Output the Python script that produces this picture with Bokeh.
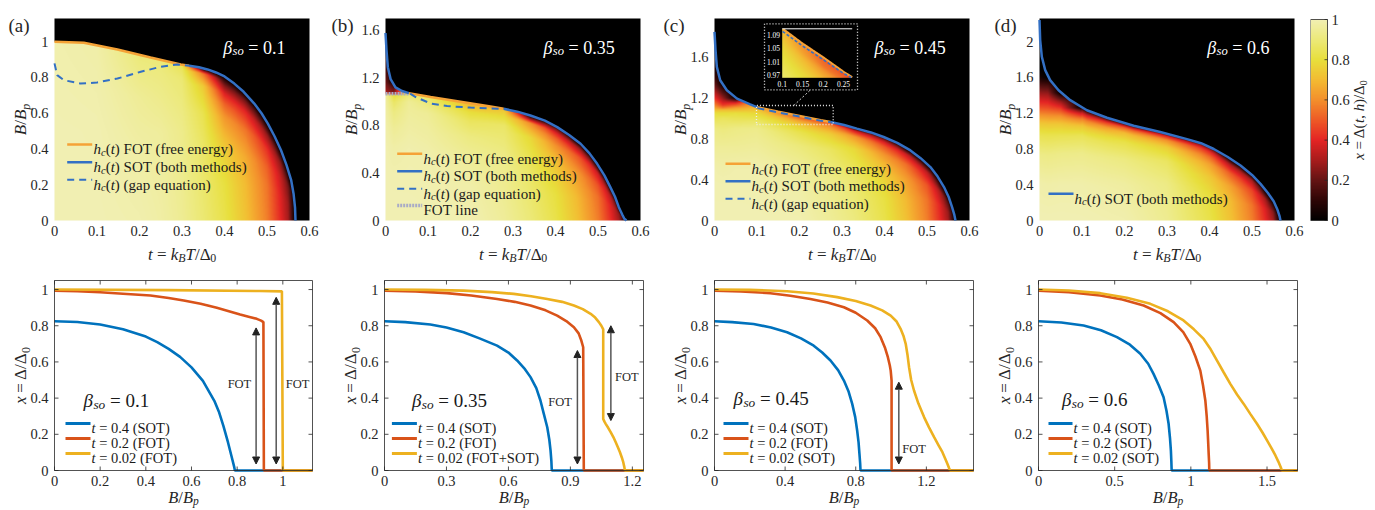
import math
import numpy as np
from bokeh.plotting import figure
from bokeh.models import Range1d, LinearColorMapper, Arrow, NormalHead, ColumnDataSource
from bokeh.layouts import row, column
from bokeh.embed import file_html
from bokeh.resources import INLINE
from bokeh.core.properties import value

FONT = "Liberation Serif"
INK = "#262626"
TXT = "#1a1a1a"

# ======================= DATA =======================
BETA_LABELS = ["0.1", "0.35", "0.45", "0.6"]
PANEL_LABELS = ["(a)", "(b)", "(c)", "(d)"]
T_TICKS = [0, 0.1, 0.2, 0.3, 0.4, 0.5, 0.6]
TOP_YMAX = [1.13, 1.70, 1.977, 2.26]
TOP_YTICKS = [[0, 0.2, 0.4, 0.6, 0.8, 1], [0, 0.4, 0.8, 1.2, 1.6],
              [0, 0.4, 0.8, 1.2, 1.6], [0, 0.4, 0.8, 1.2, 1.6, 2]]
BOT_XMAX = [1.13, 1.254, 1.467, 1.70]
BOT_XTICKS = [[0, 0.2, 0.4, 0.6, 0.8, 1], [0, 0.3, 0.6, 0.9, 1.2],
              [0, 0.4, 0.8, 1.2], [0, 0.5, 1, 1.5]]
X_TICKS = [0, 0.2, 0.4, 0.6, 0.8, 1]
CBAR_TICKS = [0, 0.2, 0.4, 0.6, 0.8, 1]

# ---- top row: critical field curves h_c(t) ----
A_FOT_T = [0.0, 0.069, 0.148, 0.226, 0.297, 0.317]
A_FOT_B = [1.0, 0.994, 0.957, 0.912, 0.873, 0.866]
A_SOT_T = [0.317, 0.34, 0.36, 0.38, 0.4, 0.423, 0.445, 0.47, 0.487, 0.502, 0.518, 0.533, 0.546,
           0.557, 0.5625, 0.566, 0.567]
A_SOT_B = [0.866, 0.857, 0.845, 0.828, 0.806, 0.766, 0.72, 0.654, 0.6, 0.542, 0.47, 0.393, 0.31,
           0.224, 0.15, 0.07, 0.0]
A_GAP_T = [0.0, 0.0063, 0.022, 0.061, 0.1, 0.148, 0.203, 0.25, 0.289, 0.317]
A_GAP_B = [0.879, 0.813, 0.785, 0.766, 0.772, 0.794, 0.832, 0.86, 0.873, 0.866]

B_SPIKE_T = [0.0, 0.0024, 0.0055, 0.012, 0.0235, 0.039, 0.055]
B_SPIKE_B = [1.578, 1.43, 1.29, 1.19, 1.12, 1.09, 1.072]
B_FOT_T = [0.055, 0.106, 0.184, 0.247, 0.278]
B_FOT_B = [1.072, 1.039, 0.996, 0.96, 0.94]
B_SOT_T = [0.278, 0.31, 0.341, 0.375, 0.404, 0.432, 0.459, 0.48, 0.498, 0.515, 0.529, 0.54,
           0.549, 0.557, 0.562, 0.567]
B_SOT_B = [0.94, 0.916, 0.884, 0.84, 0.786, 0.72, 0.646, 0.565, 0.477, 0.38, 0.281, 0.2,
           0.112, 0.05, 0.015, 0.0]
B_GAP_T = [0.058, 0.071, 0.106, 0.145, 0.2, 0.263, 0.278]
B_GAP_B = [1.067, 1.039, 0.985, 0.963, 0.95, 0.941, 0.94]
B_FOTLINE_T = [0.0, 0.055]
B_FOTLINE_B = [1.067, 1.067]

C_SPIKE_T = [0.0, 0.0024, 0.0055, 0.0134, 0.029, 0.053, 0.084, 0.101]
C_SPIKE_B = [1.846, 1.667, 1.503, 1.373, 1.275, 1.193, 1.137, 1.108]
C_FOT_T = [0.101, 0.15, 0.2, 0.25, 0.273]
C_FOT_B = [1.108, 1.064, 1.024, 0.981, 0.964]
C_SOT_T = [0.273, 0.305, 0.335, 0.368, 0.398, 0.43, 0.461, 0.485, 0.508, 0.525, 0.54, 0.551,
           0.559, 0.564, 0.567]
C_SOT_B = [0.964, 0.935, 0.899, 0.862, 0.817, 0.76, 0.686, 0.61, 0.523, 0.43, 0.327, 0.23,
           0.131, 0.06, 0.0]
C_GAP_T = [0.101, 0.15, 0.2, 0.25, 0.273]
C_GAP_B = [1.1, 1.057, 1.017, 0.976, 0.962]

D_SOT_T = [0.0, 0.0016, 0.0055, 0.0134, 0.025, 0.0448, 0.0723, 0.1115, 0.1587, 0.2215, 0.284,
           0.347, 0.38, 0.41, 0.443, 0.473, 0.5, 0.52, 0.537, 0.551, 0.56, 0.565, 0.567]
D_SOT_B = [2.243, 2.019, 1.832, 1.682, 1.57, 1.458, 1.346, 1.234, 1.15, 1.06, 0.99,
           0.91, 0.865, 0.80, 0.71, 0.615, 0.51, 0.41, 0.31, 0.215, 0.12, 0.045, 0.0]

# ---- top row: gap x = Delta/Delta0 read as columns x(B) at fixed t ----
A_HM_T = [0.0, 0.1, 0.2, 0.25, 0.3, 0.35, 0.4, 0.45, 0.5, 0.53, 0.55, 0.567, 0.6]
A_HM_B = [[0, 0.5, 1.0], [0, 0.5, 0.98], [0, 0.4, 0.7, 0.935], [0, 0.5, 0.905],
          [0, 0.5, 0.8, 0.877], [0, 0.4, 0.6, 0.75, 0.82, 0.85],
          [0, 0.201, 0.347, 0.449, 0.566, 0.638, 0.697, 0.741, 0.77, 0.79],
          [0, 0.2, 0.35, 0.5, 0.6, 0.66, 0.7], [0, 0.2, 0.3, 0.4, 0.48, 0.55],
          [0, 0.15, 0.25, 0.33, 0.41], [0, 0.1, 0.2, 0.29], [0, 1.13], [0, 1.13]]
A_HM_X = [[1.0, 0.998, 0.99], [0.998, 0.995, 0.98], [0.99, 0.975, 0.95, 0.9], [0.975, 0.96, 0.9],
          [0.945, 0.93, 0.89, 0.84], [0.89, 0.87, 0.83, 0.74, 0.55, 0.0],
          [0.825, 0.807, 0.764, 0.709, 0.617, 0.516, 0.387, 0.239, 0.11, 0.0],
          [0.72, 0.70, 0.66, 0.55, 0.40, 0.22, 0.0], [0.57, 0.55, 0.51, 0.42, 0.27, 0.0],
          [0.42, 0.40, 0.36, 0.27, 0.0], [0.30, 0.28, 0.22, 0.0], [0.0, 0.0], [0.0, 0.0]]

B_HM_T = [0.0, 0.02, 0.055, 0.1, 0.2, 0.28, 0.34, 0.4, 0.45, 0.5, 0.53, 0.55, 0.567, 0.6]
B_HM_B = [[0, 0.6, 1.06, 1.075, 1.2, 1.35, 1.5, 1.6],
          [0, 0.383, 0.626, 0.788, 0.917, 0.998, 1.038, 1.059, 1.062, 1.071, 1.095, 1.119, 1.14, 1.164],
          [0, 0.6, 1.0, 1.072], [0, 0.5, 0.9, 1.04],
          [0, 0.302, 0.545, 0.707, 0.836, 0.917, 0.953, 0.99], [0, 0.5, 0.8, 0.94],
          [0, 0.4, 0.7, 0.82, 0.885],
          [0, 0.222, 0.383, 0.545, 0.642, 0.707, 0.755, 0.788, 0.804, 0.81],
          [0, 0.2, 0.4, 0.55, 0.63, 0.68], [0, 0.2, 0.3, 0.4, 0.47], [0, 0.12, 0.2, 0.27],
          [0, 0.05, 0.1], [0, 1.7], [0, 1.7]]
B_HM_X = [[1.0, 0.995, 0.97, 0.3, 0.2, 0.1, 0.03, 0.0],
          [1.0, 0.994, 0.976, 0.948, 0.912, 0.866, 0.82, 0.78, 0.285, 0.258, 0.212, 0.157, 0.101, 0.0],
          [1.0, 0.99, 0.95, 0.88], [0.998, 0.99, 0.95, 0.87],
          [0.994, 0.98, 0.948, 0.912, 0.856, 0.792, 0.718, 0.68], [0.955, 0.93, 0.87, 0.72],
          [0.90, 0.87, 0.78, 0.6, 0.0],
          [0.825, 0.807, 0.764, 0.69, 0.608, 0.516, 0.387, 0.239, 0.11, 0.0],
          [0.72, 0.70, 0.63, 0.5, 0.3, 0.0], [0.57, 0.54, 0.48, 0.35, 0.0], [0.42, 0.39, 0.32, 0.0],
          [0.30, 0.26, 0.0], [0.0, 0.0], [0.0, 0.0]]

C_HM_T = [0.0, 0.02, 0.05, 0.1, 0.2, 0.27, 0.33, 0.4, 0.45, 0.5, 0.53, 0.55, 0.567, 0.6]
C_HM_B = [[0, 0.5, 0.9, 1.05, 1.12, 1.2, 1.3, 1.4, 1.55, 1.85],
          [0, 0.411, 0.695, 0.884, 0.998, 1.054, 1.083, 1.102, 1.13, 1.187, 1.244, 1.291, 1.319, 1.334],
          [0, 0.5, 0.9, 1.05, 1.1, 1.15, 1.2], [0, 0.5, 0.9, 0.97, 1.05, 1.11],
          [0, 0.316, 0.543, 0.733, 0.865, 0.941, 0.982, 0.998, 1.025],
          [0, 0.4, 0.7, 0.85, 0.93, 0.97], [0, 0.4, 0.7, 0.82, 0.88, 0.905],
          [0, 0.221, 0.411, 0.562, 0.657, 0.733, 0.78, 0.808, 0.821, 0.827],
          [0, 0.2, 0.4, 0.55, 0.65, 0.71], [0, 0.2, 0.35, 0.48, 0.56], [0, 0.15, 0.28, 0.39],
          [0, 0.08, 0.15, 0.22], [0, 1.98], [0, 1.98]]
C_HM_X = [[1.0, 0.99, 0.92, 0.8, 0.6, 0.42, 0.25, 0.12, 0.04, 0.0],
          [1.0, 0.991, 0.958, 0.912, 0.856, 0.783, 0.7, 0.571, 0.442, 0.295, 0.184, 0.101, 0.037, 0.0],
          [1.0, 0.99, 0.92, 0.8, 0.65, 0.4, 0.0], [0.998, 0.99, 0.93, 0.87, 0.78, 0.68],
          [0.994, 0.98, 0.948, 0.902, 0.829, 0.737, 0.626, 0.552, 0.5],
          [0.955, 0.93, 0.86, 0.75, 0.6, 0.45], [0.91, 0.88, 0.78, 0.62, 0.35, 0.0],
          [0.825, 0.81, 0.764, 0.69, 0.608, 0.497, 0.368, 0.221, 0.092, 0.0],
          [0.72, 0.70, 0.64, 0.54, 0.35, 0.0], [0.57, 0.55, 0.49, 0.33, 0.0], [0.42, 0.40, 0.31, 0.0],
          [0.30, 0.27, 0.18, 0.0], [0.0, 0.0], [0.0, 0.0]]

D_HM_T = [0.0, 0.02, 0.05, 0.1, 0.2, 0.3, 0.4, 0.45, 0.5, 0.53, 0.55, 0.567, 0.6]
D_HM_B = [[0, 0.405, 0.734, 0.952, 1.084, 1.171, 1.259, 1.347, 1.434, 1.5, 1.56, 1.62, 1.7],
          [0, 0.405, 0.734, 0.952, 1.084, 1.171, 1.259, 1.347, 1.434, 1.5, 1.555, 1.588, 1.598],
          [0, 0.4, 0.75, 0.95, 1.08, 1.17, 1.25, 1.33, 1.39, 1.43],
          [0, 0.4, 0.75, 0.95, 1.06, 1.14, 1.2, 1.24, 1.26],
          [0, 0.4, 0.68, 0.87, 0.97, 1.03, 1.06, 1.08], [0, 0.4, 0.65, 0.8, 0.88, 0.93, 0.95],
          [0, 0.296, 0.515, 0.668, 0.755, 0.821, 0.854, 0.869, 0.874],
          [0, 0.2, 0.35, 0.48, 0.57, 0.63], [0, 0.15, 0.3, 0.4, 0.455], [0, 0.12, 0.22, 0.315],
          [0, 0.08, 0.19], [0, 2.26], [0, 2.26]]
D_HM_X = [[1.0, 0.985, 0.925, 0.835, 0.735, 0.62, 0.49, 0.38, 0.27, 0.18, 0.1, 0.04, 0.0],
          [1.0, 0.98, 0.921, 0.829, 0.727, 0.608, 0.479, 0.368, 0.258, 0.166, 0.083, 0.022, 0.0],
          [1.0, 0.985, 0.925, 0.835, 0.73, 0.6, 0.45, 0.28, 0.12, 0.0],
          [0.998, 0.985, 0.93, 0.84, 0.72, 0.55, 0.35, 0.15, 0.0],
          [0.99, 0.967, 0.912, 0.82, 0.7, 0.5, 0.25, 0.0], [0.94, 0.92, 0.86, 0.75, 0.6, 0.35, 0.0],
          [0.825, 0.801, 0.737, 0.645, 0.534, 0.405, 0.258, 0.11, 0.0],
          [0.72, 0.70, 0.64, 0.5, 0.3, 0.0], [0.57, 0.55, 0.46, 0.3, 0.0], [0.42, 0.39, 0.3, 0.0],
          [0.3, 0.25, 0.0], [0.0, 0.0], [0.0, 0.0]]
# below this t the columns are blended at fixed B, above it along the boundary
HM_ABS_END = [0.0, 0.055, 0.1, 0.1]

# ---- inset of panel (c) ----
INSET_T_RANGE = [0.1, 0.2713]
INSET_B_RANGE = [0.9632, 1.1077]
INSET_XTICKS = [0.1, 0.15, 0.2, 0.25]
INSET_XLABELS = ["0.1", "0.15", "0.2", "0.25"]
INSET_YTICKS = [0.97, 1.01, 1.05, 1.09]
INSET_YLABELS = ["0.97", "1.01", "1.05", "1.09"]

# ---- bottom row: x(B) at t = 0.4, 0.2, 0.02 ----
T_VALUES = ["0.4", "0.2", "0.02"]
BOT_TAGS = [["(SOT)", "(FOT)", "(FOT)"], ["(SOT)", "(FOT)", "(FOT+SOT)"],
            ["(SOT)", "(FOT)", "(SOT)"], ["(SOT)", "(SOT)", "(SOT)"]]

A_T04_B = [0, 0.1, 0.2, 0.3, 0.4, 0.45, 0.5, 0.55, 0.6, 0.65, 0.7, 0.72, 0.74, 0.76, 0.775,
           0.787, 0.79, 1.13]
A_T04_X = [0.825, 0.821, 0.807, 0.781, 0.74, 0.709, 0.672, 0.628, 0.57, 0.495, 0.385, 0.325,
           0.245, 0.155, 0.08, 0.02, 0.0, 0.0]
A_T02_B = [0, 0.1, 0.2, 0.3, 0.42, 0.5, 0.566, 0.64, 0.711, 0.76, 0.813, 0.85, 0.886, 0.905,
           0.915, 0.917, 1.13]
A_T02_X = [0.994, 0.991, 0.985, 0.977, 0.967, 0.953, 0.939, 0.921, 0.899, 0.882, 0.862, 0.85,
           0.838, 0.828, 0.82, 0.0, 0.0]
A_T002_B = [0, 0.5, 0.9, 0.996, 1.0, 1.13]
A_T002_X = [1.0, 0.997, 0.992, 0.99, 0.0, 0.0]

B_T04_B = [0, 0.1, 0.222, 0.3, 0.383, 0.46, 0.545, 0.6, 0.642, 0.68, 0.707, 0.735, 0.755, 0.772,
           0.788, 0.798, 0.804, 0.808, 0.81, 1.254]
B_T04_X = [0.825, 0.82, 0.807, 0.79, 0.764, 0.73, 0.69, 0.652, 0.608, 0.56, 0.516, 0.455, 0.387,
           0.31, 0.239, 0.17, 0.11, 0.05, 0.0, 0.0]
B_T02_B = [0, 0.15, 0.302, 0.42, 0.545, 0.63, 0.707, 0.78, 0.836, 0.88, 0.917, 0.94, 0.953,
           0.962, 0.965, 1.254]
B_T02_X = [0.994, 0.99, 0.98, 0.967, 0.948, 0.932, 0.912, 0.885, 0.856, 0.826, 0.792, 0.758,
           0.718, 0.681, 0.0, 0.0]
B_T002_B = [0, 0.2, 0.383, 0.52, 0.626, 0.71, 0.788, 0.86, 0.917, 0.96, 0.998, 1.02, 1.038, 1.05,
            1.059, 1.059, 1.065, 1.071, 1.083, 1.095, 1.108, 1.119, 1.13, 1.14, 1.149, 1.156,
            1.161, 1.164, 1.254]
B_T002_X = [1.0, 0.998, 0.994, 0.986, 0.976, 0.963, 0.948, 0.932, 0.912, 0.892, 0.866, 0.845,
            0.82, 0.8, 0.78, 0.285, 0.27, 0.258, 0.236, 0.212, 0.185, 0.157, 0.128, 0.101, 0.072,
            0.046, 0.02, 0.0, 0.0]

C_T04_B = [0, 0.1, 0.221, 0.32, 0.411, 0.49, 0.562, 0.61, 0.657, 0.7, 0.733, 0.76, 0.78, 0.797,
           0.808, 0.816, 0.821, 0.825, 0.827, 1.467]
C_T04_X = [0.825, 0.82, 0.81, 0.79, 0.764, 0.73, 0.69, 0.652, 0.608, 0.555, 0.497, 0.435, 0.368,
           0.295, 0.221, 0.155, 0.092, 0.04, 0.0, 0.0]
C_T02_B = [0, 0.15, 0.316, 0.43, 0.543, 0.64, 0.733, 0.8, 0.865, 0.91, 0.941, 0.965, 0.982,
           0.993, 0.998, 1.001, 1.003, 1.003, 1.467]
C_T02_X = [0.994, 0.99, 0.98, 0.966, 0.948, 0.928, 0.902, 0.872, 0.829, 0.786, 0.737, 0.68,
           0.626, 0.58, 0.552, 0.52, 0.497, 0.0, 0.0]
C_T002_B = [0, 0.2, 0.411, 0.56, 0.695, 0.8, 0.884, 0.95, 0.998, 1.03, 1.054, 1.07, 1.083, 1.093,
            1.102, 1.114, 1.13, 1.155, 1.187, 1.215, 1.244, 1.27, 1.291, 1.307, 1.319, 1.329,
            1.334, 1.467]
C_T002_X = [1.0, 0.998, 0.991, 0.978, 0.958, 0.937, 0.912, 0.885, 0.856, 0.825, 0.783, 0.745,
            0.7, 0.64, 0.571, 0.5, 0.442, 0.37, 0.295, 0.238, 0.184, 0.138, 0.101, 0.065, 0.037,
            0.012, 0.0, 0.0]

D_T04_B = [0, 0.15, 0.296, 0.41, 0.515, 0.6, 0.668, 0.72, 0.755, 0.79, 0.821, 0.84, 0.854, 0.863,
           0.869, 0.872, 0.874, 1.70]
D_T04_X = [0.825, 0.818, 0.801, 0.775, 0.737, 0.695, 0.645, 0.59, 0.534, 0.47, 0.405, 0.33, 0.258,
           0.18, 0.11, 0.05, 0.0, 0.0]
D_T02_B = [0, 0.2, 0.405, 0.55, 0.69, 0.8, 0.887, 0.95, 0.996, 1.03, 1.062, 1.08, 1.095, 1.104,
           1.11, 1.114, 1.117, 1.12, 1.121, 1.70]
D_T02_X = [0.994, 0.985, 0.967, 0.945, 0.912, 0.87, 0.82, 0.765, 0.7, 0.63, 0.552, 0.47, 0.387,
           0.3, 0.221, 0.15, 0.092, 0.04, 0.0, 0.0]
D_T002_B = [0, 0.2, 0.405, 0.58, 0.734, 0.85, 0.952, 1.02, 1.084, 1.13, 1.171, 1.215, 1.259, 1.303,
            1.347, 1.39, 1.434, 1.47, 1.5, 1.53, 1.555, 1.575, 1.588, 1.598, 1.70]
D_T002_X = [1.0, 0.995, 0.98, 0.955, 0.921, 0.88, 0.829, 0.78, 0.727, 0.67, 0.608, 0.543, 0.479,
            0.42, 0.368, 0.313, 0.258, 0.21, 0.166, 0.122, 0.083, 0.048, 0.022, 0.0, 0.0]

# FOT arrows and their labels (bottom row)
ARR_A_B = [0.883, 0.971]
ARR_A_Y0 = [0.036, 0.036]
ARR_A_Y1 = [0.788, 0.957]
FOTLAB_A_B = [0.81, 1.065]
FOTLAB_A_Y = [0.479, 0.479]
ARR_B_B = [0.934, 1.096]
ARR_B_Y0 = [0.036, 0.276]
ARR_B_Y1 = [0.663, 0.80]
FOTLAB_B_B = [0.85, 1.173]
FOTLAB_B_Y = [0.377, 0.515]
ARR_C_B = [1.044]
ARR_C_Y0 = [0.036]
ARR_C_Y1 = [0.488]
FOTLAB_C_B = [1.13]
FOTLAB_C_Y = [0.12]

# colour map  x = Delta(t,h)/Delta0
CMAP_POS = [0.0, 0.1, 0.2, 0.3, 0.4, 0.5, 0.6, 0.7, 0.8, 0.9, 1.0]
CMAP_HEX = ["#000000", "#2e0606", "#641414", "#a81c1c", "#e42424", "#ee5a26", "#f38f2c",
            "#f3bb32", "#e8df3c", "#ece978", "#f1efb2"]

# ======================= STYLE / LAYOUT =======================
FOT_ORANGE = "#f5a236"
SOT_BLUE = "#3370c4"
FOTLINE_GRAY = "#a9abc6"
L_BLUE, L_RED, L_YEL = "#0072bd", "#d95319", "#edb120"
TICK_FS = "14.5px"

TOP_H, BOT_H = 270, 240
TOP_TOP, BOT_TOP = 18, 10
TOP_W = [330, 330, 330, 320]
TOP_L = [54, 55, 54, 49]
TOP_FW, TOP_FH = 255, 202
BOT_W = [330, 330, 330, 385]
BOT_L = [54, 54, 54, 48]
BOT_FW = [258, 259, 259, 259]
BOT_FH = 190


def hex2rgb(h):
    return [int(h[i:i + 2], 16) for i in (1, 3, 5)]


def make_palette(pos, hexes, n=256):
    rgb = np.array([hex2rgb(h) for h in hexes], float)
    out = []
    for v in np.linspace(0, 1, n):
        c = [int(round(np.interp(v, pos, rgb[:, k]))) for k in range(3)]
        out.append("#%02x%02x%02x" % tuple(c))
    return out


CMAPPER = LinearColorMapper(palette=make_palette(CMAP_POS, CMAP_HEX), low=0, high=1)

CW = {' ': 250, '(': 333, ')': 333, '+': 564, ',': 250, '-': 333, '.': 250, '/': 278, '=': 564,
      'A': 722, 'B': 667, 'C': 667, 'D': 722, 'E': 611, 'F': 556, 'O': 722, 'S': 556, 'T': 611,
      'a': 444, 'b': 500, 'c': 444, 'd': 500, 'e': 444, 'f': 333, 'g': 500, 'h': 500, 'i': 278,
      'k': 500, 'l': 278, 'm': 778, 'n': 500, 'o': 500, 'p': 500, 'q': 500, 'r': 333, 's': 389,
      't': 278, 'u': 500, 'x': 500, 'y': 500, 'Δ': 612, 'β': 520}
CW_IT = {'B': 611, 'T': 556, 'c': 444, 'h': 500, 'k': 444, 'o': 500, 'p': 500, 's': 389,
         't': 278, 'x': 444, 'β': 520}


def text_w(s, size, italic):
    tot = 0
    for ch in s:
        tot += CW_IT[ch] if (italic and ch in CW_IT) else CW.get(ch, 500)
    return tot * size / 1000.0


class Canvas:
    """A figure whose frame is the whole canvas; the visible axes box is drawn by hand."""

    def __init__(self, W, H, left, top, fw, fh, xlim, ylim):
        self.W, self.H, self.left, self.top, self.fw, self.fh = W, H, left, top, fw, fh
        self.bot = H - top - fh
        self.x0, self.x1 = xlim
        self.y0, self.y1 = ylim
        self.sx = (self.x1 - self.x0) / fw
        self.sy = (self.y1 - self.y0) / fh
        xr = Range1d(self.x0 - left * self.sx, self.x0 + (W - left) * self.sx)
        yr = Range1d(self.y0 - self.bot * self.sy, self.y0 + (H - self.bot) * self.sy)
        p = figure(width=W, height=H, x_range=xr, y_range=yr, x_axis_type=None, y_axis_type=None,
                   output_backend="svg", toolbar_location=None, min_border_left=0,
                   min_border_right=0, min_border_top=0, min_border_bottom=0)
        p.outline_line_color = None
        p.background_fill_color = "white"
        p.border_fill_color = "white"
        self.p = p

    def d(self, rx, ry):
        return self.x0 + rx * self.sx, self.y0 + ry * self.sy


def rich(c, x, y, segs, size, color=TXT, align="left", angle=0.0):
    """Text made of (text, style) pieces; x, y in px from the axes box bottom-left.
    Unrotated: (x, y) is the start of the baseline.  Rotated: x is the middle line."""
    widths = []
    for txt, st in segs:
        sz = size * 0.7 if st in ("s", "si") else size
        widths.append(text_w(txt, sz, st in ("i", "si")))
    total = sum(widths)
    pos = {"left": 0.0, "center": -total / 2, "right": -total}[align]
    for (txt, st), w in zip(segs, widths):
        sub = st in ("s", "si")
        it = st in ("i", "si")
        sz = size * 0.7 if sub else size
        core = txt.strip(" ")
        lead = text_w(txt[:len(txt) - len(txt.lstrip(" "))], sz, it)
        wcore = text_w(core, sz, it)
        style = dict(text_font=value(FONT), text_font_size="%.1fpx" % sz,
                     text_font_style="italic" if it else "normal", text_color=color)
        if core:
            if angle == 0:
                tx, ty = c.d(x + pos + lead, y + (-0.22 * size if sub else 0.0))
                c.p.text(x=[tx], y=[ty], text=[core], text_align="left", text_baseline="alphabetic",
                         **style)
            else:
                tx, ty = c.d(x + (0.322 * size if sub else 0.0), y + pos + lead + wcore / 2)
                c.p.text(x=[tx], y=[ty], text=[core], angle=angle, text_align="center",
                         text_baseline="middle", **style)
        pos += w


def fmt(v):
    return "%g" % v


def tick_labels(c, xticks, yticks, xstand=5, ystand=6):
    p = c.p
    if xticks:
        p.text(x=xticks, y=[c.y0] * len(xticks), text=[fmt(v) for v in xticks], text_font=value(FONT),
               text_font_size=TICK_FS, text_color=INK, text_align="center", text_baseline="top",
               y_offset=xstand)
    if yticks:
        p.text(x=[c.x0] * len(yticks), y=yticks, text=[fmt(v) for v in yticks], text_font=value(FONT),
               text_font_size=TICK_FS, text_color=INK, text_align="right", text_baseline="middle",
               x_offset=-ystand)


def box_ticks(c, xticks, yticks, L=4):
    xs0, ys0, xs1, ys1 = [], [], [], []
    for v in xticks:
        xs0 += [v, v]
        xs1 += [v, v]
        ys0 += [c.y0, c.y1]
        ys1 += [c.y0 + L * c.sy, c.y1 - L * c.sy]
    for v in yticks:
        ys0 += [v, v]
        ys1 += [v, v]
        xs0 += [c.x0, c.x1]
        xs1 += [c.x0 + L * c.sx, c.x1 - L * c.sx]
    c.p.segment(xs0, ys0, xs1, ys1, color=INK, line_width=0.8)
    c.p.line([c.x0, c.x1, c.x1, c.x0, c.x0], [c.y0, c.y0, c.y1, c.y1, c.y0], color=INK, line_width=0.8)


def build_field(cols_t, cols_B, cols_x, bnd_t, bnd_B, t_abs_end, t_lo, t_hi, B_lo, B_hi, nx, ny):
    ts = t_lo + (np.arange(nx) + 0.5) * (t_hi - t_lo) / nx
    Bs = B_lo + (np.arange(ny) + 0.5) * (B_hi - B_lo) / ny
    hc = np.interp(ts, bnd_t, bnd_B, right=0.0)
    ct = np.asarray(cols_t, float)
    img = np.zeros((ny, nx))
    for i, t in enumerate(ts):
        k = int(np.clip(np.searchsorted(ct, t, side="right") - 1, 0, len(ct) - 2))
        w = min(max((t - ct[k]) / (ct[k + 1] - ct[k]), 0.0), 1.0)
        if ct[k + 1] <= t_abs_end + 1e-9:
            va = np.interp(Bs, cols_B[k], cols_x[k])
            vb = np.interp(Bs, cols_B[k + 1], cols_x[k + 1])
        else:
            s = Bs / max(hc[i], 1e-6)
            va = np.interp(s * cols_B[k][-1], cols_B[k], cols_x[k])
            vb = np.interp(s * cols_B[k + 1][-1], cols_B[k + 1], cols_x[k + 1])
        col = (1 - w) * va + w * vb
        col[Bs > hc[i]] = 0.0
        img[:, i] = col
    return img.astype(np.float32)


HC = [("h", "i"), ("c", "si"), ("(", "r"), ("t", "i"), (")", "r")]
XLAB_T = [("t", "i"), (" = ", "r"), ("k", "i"), ("B", "si"), ("T", "i"), ("/Δ", "r"), ("0", "s")]
LAB_BBP = [("B", "i"), ("/", "r"), ("B", "i"), ("p", "si")]
LAB_X = [("x", "i"), (" = Δ/Δ", "r"), ("0", "s")]
LEG_FOT = HC + [(" FOT (free energy)", "r")]
LEG_SOT = HC + [(" SOT (both methods)", "r")]
LEG_GAP = HC + [(" (gap equation)", "r")]


def top_panel(i, field, bnd_t, bnd_B):
    ymax = TOP_YMAX[i]
    c = Canvas(TOP_W[i], TOP_H, TOP_L[i], TOP_TOP, TOP_FW, TOP_FH, (0, 0.6), (0, ymax))
    img = build_field(*field, bnd_t, bnd_B, HM_ABS_END[i], 0, 0.6, 0, ymax, TOP_FW, TOP_FH)
    c.p.image(image=[img], x=0, y=0, dw=0.6, dh=ymax, color_mapper=CMAPPER)
    tick_labels(c, T_TICKS, TOP_YTICKS[i])
    rich(c, TOP_FW / 2, -34, XLAB_T, 17, INK, align="center")
    rich(c, -34, TOP_FH / 2, LAB_BBP, 17, INK, align="center", angle=math.pi / 2)
    return c


def top_legend(c, entries, rx0, rx1, rtext):
    for ry, kind, segs in entries:
        (x0, y), (x1, _) = c.d(rx0, ry), c.d(rx1, ry)
        if kind == "fot":
            c.p.line([x0, x1], [y, y], color=FOT_ORANGE, line_width=2.5)
        elif kind == "sot":
            c.p.line([x0, x1], [y, y], color=SOT_BLUE, line_width=2.5)
        elif kind == "gap":
            c.p.line([x0, x1], [y, y], color=SOT_BLUE, line_width=2, line_dash="7 5")
        else:
            c.p.line([x0, x1], [y, y], color=FOTLINE_GRAY, line_width=3.5, line_dash="2 1")
        rich(c, rtext, ry - 4.7, segs, 15, TXT)


tops = []
# ---------- (a) ----------
ca = top_panel(0, (A_HM_T, A_HM_B, A_HM_X), A_FOT_T + A_SOT_T[1:], A_FOT_B + A_SOT_B[1:])
ca.p.line(A_FOT_T, A_FOT_B, color=FOT_ORANGE, line_width=2.5)
ca.p.line(A_SOT_T, A_SOT_B, color=SOT_BLUE, line_width=2.5)
ca.p.line(A_GAP_T, A_GAP_B, color=SOT_BLUE, line_width=2, line_dash="7 5")
top_legend(ca, [(76, "fot", LEG_FOT), (58.3, "sot", LEG_SOT), (40.7, "gap", LEG_GAP)], 12.7, 37.7, 39)
tops.append(ca)

# ---------- (b) ----------
cbp = top_panel(1, (B_HM_T, B_HM_B, B_HM_X), B_SPIKE_T + B_FOT_T[1:] + B_SOT_T[1:],
                B_SPIKE_B + B_FOT_B[1:] + B_SOT_B[1:])
cbp.p.line(B_FOTLINE_T, B_FOTLINE_B, color=FOTLINE_GRAY, line_width=3.5, line_dash="2 1")
cbp.p.line(B_FOT_T, B_FOT_B, color=FOT_ORANGE, line_width=2.5)
cbp.p.line(B_SPIKE_T, B_SPIKE_B, color=SOT_BLUE, line_width=2.5)
cbp.p.line(B_SOT_T, B_SOT_B, color=SOT_BLUE, line_width=2.5)
cbp.p.line(B_GAP_T, B_GAP_B, color=SOT_BLUE, line_width=2, line_dash="7 5")
top_legend(cbp, [(66.7, "fot", LEG_FOT), (49.3, "sot", LEG_SOT), (31.7, "gap", LEG_GAP),
                 (15, "line", [("FOT line", "r")])], 11.7, 36.7, 38)
tops.append(cbp)

# ---------- (c) ----------
C_BND_T = C_SPIKE_T + C_FOT_T[1:] + C_SOT_T[1:]
C_BND_B = C_SPIKE_B + C_FOT_B[1:] + C_SOT_B[1:]
cc = top_panel(2, (C_HM_T, C_HM_B, C_HM_X), C_BND_T, C_BND_B)
cc.p.line(C_FOT_T, C_FOT_B, color=FOT_ORANGE, line_width=2.5)
cc.p.line(C_SPIKE_T, C_SPIKE_B, color=SOT_BLUE, line_width=2.5)
cc.p.line(C_SOT_T, C_SOT_B, color=SOT_BLUE, line_width=2.5)
cc.p.line(C_GAP_T, C_GAP_B, color=SOT_BLUE, line_width=2, line_dash="7 5")
top_legend(cc, [(56.7, "fot", LEG_FOT), (39.3, "sot", LEG_SOT), (21.7, "gap", LEG_GAP)], 11, 36, 37)


def px_c(xpx, ypx):
    return cc.d(xpx - 714, 220 - ypx)


(in_t0, in_b0), (in_t1, in_b1) = px_c(781.7, 77.3), px_c(851.7, 28.3)
(fr_t0, fr_b0), (fr_t1, fr_b1) = px_c(764, 89.3), px_c(857, 23.3)
(zb_t0, zb_b0), (zb_t1, zb_b1) = px_c(756, 124), px_c(832.7, 105)
(cn_t0, cn_b0), (cn_t1, cn_b1) = px_c(793.3, 105), px_c(810, 89.3)


def inset_map(ts, bs):
    ts, bs = np.asarray(ts, float), np.asarray(bs, float)
    mt = in_t0 + (ts - INSET_T_RANGE[0]) / (INSET_T_RANGE[1] - INSET_T_RANGE[0]) * (in_t1 - in_t0)
    mb = in_b0 + (bs - INSET_B_RANGE[0]) / (INSET_B_RANGE[1] - INSET_B_RANGE[0]) * (in_b1 - in_b0)
    return mt, mb


def inset_curve(T, B):
    lo, hi = max(T[0], INSET_T_RANGE[0]), min(T[-1], INSET_T_RANGE[1])
    if hi <= lo:
        return None
    ts = np.linspace(lo, hi, 80)
    bs = np.interp(ts, T, B)
    m = (bs >= INSET_B_RANGE[0]) & (bs <= INSET_B_RANGE[1])
    return inset_map(ts[m], bs[m])


ins_img = build_field(C_HM_T, C_HM_B, C_HM_X, C_BND_T, C_BND_B, HM_ABS_END[2], INSET_T_RANGE[0],
                      INSET_T_RANGE[1], INSET_B_RANGE[0], INSET_B_RANGE[1], 140, 98)
cc.p.image(image=[ins_img], x=in_t0, y=in_b0, dw=in_t1 - in_t0, dh=in_b1 - in_b0, color_mapper=CMAPPER)
for (T, B, col, lw, dash) in [(C_FOT_T, C_FOT_B, FOT_ORANGE, 2, "solid"),
                              (C_SPIKE_T, C_SPIKE_B, SOT_BLUE, 2.5, "solid"),
                              (C_SOT_T, C_SOT_B, SOT_BLUE, 2.5, "solid"),
                              (C_GAP_T, C_GAP_B, SOT_BLUE, 1.6, "3 2")]:
    res = inset_curve(T, B)
    if res is not None and len(res[0]) > 1:
        cc.p.line(res[0], res[1], color=col, line_width=lw, line_dash=dash)
cc.p.line([in_t0, in_t1], [in_b1, in_b1], color="white", line_width=1)
ix, _ = inset_map(INSET_XTICKS, INSET_XTICKS)
_, iy = inset_map(INSET_YTICKS, INSET_YTICKS)
lab_b = px_c(0, 83.5)[1]
lab_t = px_c(779.5, 0)[0]
cc.p.text(x=list(ix), y=[lab_b] * 4, text=INSET_XLABELS, text_font=value(FONT), text_font_size="7.5px",
          text_color="white", text_align="center", text_baseline="middle")
cc.p.text(x=[lab_t] * 4, y=list(iy), text=INSET_YLABELS, text_font=value(FONT), text_font_size="7.5px",
          text_color="white", text_align="right", text_baseline="middle")
cc.p.line([fr_t0, fr_t1, fr_t1, fr_t0, fr_t0], [fr_b0, fr_b0, fr_b1, fr_b1, fr_b0], color="#eeeeee",
          line_width=1.3, line_dash="1 2")
cc.p.line([zb_t0, zb_t1, zb_t1, zb_t0, zb_t0], [zb_b0, zb_b0, zb_b1, zb_b1, zb_b0], color="#eeeeee",
          line_width=1.3, line_dash="1 2")
cc.p.line([cn_t0, cn_t1], [cn_b0, cn_b1], color="#cccccc", line_width=1, line_dash="2 2")
tops.append(cc)

# ---------- (d) ----------
cd = top_panel(3, (D_HM_T, D_HM_B, D_HM_X), D_SOT_T, D_SOT_B)
cd.p.line(D_SOT_T, D_SOT_B, color=SOT_BLUE, line_width=2.5)
top_legend(cd, [(26.7, "sot", LEG_SOT)], 9, 34, 35)
tops.append(cd)

BETA_TOP_X = [168.7, 158, 160, 167.7]
LETTER_X = [-46, -54, -51, -45]
for i, c in enumerate(tops):
    rich(c, BETA_TOP_X[i], 173, [("β", "i"), ("so", "si"), (" = " + BETA_LABELS[i], "r")], 18, "white")
    rich(c, LETTER_X[i], 195, [(PANEL_LABELS[i], "r")], 19, INK)

# ---------- colour bar ----------
ccb = Canvas(65, TOP_H, 0, 19, 17, 201, (0, 1), (0, 1))
ccb.p.image(image=[np.linspace(0, 1, 256).reshape(256, 1)], x=0, y=0, dw=1, dh=1, color_mapper=CMAPPER)
ccb.p.line([0, 1, 1, 0, 0], [0, 0, 1, 1, 0], color=INK, line_width=0.8)
ccb.p.segment([1] * 6, CBAR_TICKS, [1 - 3 * ccb.sx] * 6, CBAR_TICKS, color=INK, line_width=0.8)
ccb.p.text(x=[1] * 6, y=CBAR_TICKS, text=[fmt(v) for v in CBAR_TICKS], text_font=value(FONT),
           text_font_size=TICK_FS, text_color=INK, text_align="left", text_baseline="middle", x_offset=4)
rich(ccb, 48, 100.5, [("x", "i"), (" = Δ(", "r"), ("t", "i"), (",", "r"), (" h", "i"), (")/Δ", "r"),
                      ("0", "s")], 15, INK, align="center", angle=math.pi / 2)

# ---------- bottom row ----------
BOT_CURVES = [[(A_T04_B, A_T04_X), (A_T02_B, A_T02_X), (A_T002_B, A_T002_X)],
              [(B_T04_B, B_T04_X), (B_T02_B, B_T02_X), (B_T002_B, B_T002_X)],
              [(C_T04_B, C_T04_X), (C_T02_B, C_T02_X), (C_T002_B, C_T002_X)],
              [(D_T04_B, D_T04_X), (D_T02_B, D_T02_X), (D_T002_B, D_T002_X)]]
BOT_ARROWS = [(ARR_A_B, ARR_A_Y0, ARR_A_Y1, FOTLAB_A_B, FOTLAB_A_Y),
              (ARR_B_B, ARR_B_Y0, ARR_B_Y1, FOTLAB_B_B, FOTLAB_B_Y),
              (ARR_C_B, ARR_C_Y0, ARR_C_Y1, FOTLAB_C_B, FOTLAB_C_Y), None]
LEG_Y = [47, 32, 17]
LEG_X = [(11, 36, 37), (7.4, 32.4, 33.5), (9, 34, 35), (10, 34, 35)]
BETA_BOT = [(29, 70), (27.4, 70.5), (19, 72.5), (23.4, 71)]
COLORS = [L_BLUE, L_RED, L_YEL]

bots = []
for i in range(4):
    FW = BOT_FW[i]
    c = Canvas(BOT_W[i], BOT_H, BOT_L[i], BOT_TOP, FW, BOT_FH, (0, BOT_XMAX[i]), (0, 1.05))
    for (Bv, Xv), col in zip(BOT_CURVES[i], COLORS):
        c.p.line(Bv, Xv, color=col, line_width=2.6)
    box_ticks(c, BOT_XTICKS[i], X_TICKS)
    tick_labels(c, BOT_XTICKS[i], X_TICKS)
    if BOT_ARROWS[i] is not None:
        ab, ay0, ay1, lb, ly = BOT_ARROWS[i]
        src = ColumnDataSource(dict(x0=ab, y0=ay0, x1=ab, y1=ay1))
        c.p.add_layout(Arrow(start=NormalHead(size=7, fill_color="#222222", line_color="#222222"),
                             end=NormalHead(size=7, fill_color="#222222", line_color="#222222"),
                             x_start="x0", y_start="y0", x_end="x1", y_end="y1", source=src,
                             line_color="#555555", line_width=1.5))
        c.p.text(x=lb, y=ly, text=["FOT"] * len(lb), text_font=value(FONT), text_font_size="12.5px",
                 text_color=INK, text_align="center", text_baseline="middle")
    rx0, rx1, rtx = LEG_X[i]
    for ry, col, tv, tag in zip(LEG_Y, COLORS, T_VALUES, BOT_TAGS[i]):
        (x0, y), (x1, _) = c.d(rx0, ry), c.d(rx1, ry)
        c.p.line([x0, x1], [y, y], color=col, line_width=3)
        rich(c, rtx, ry - 4.5, [("t", "i"), (" = " + tv + " " + tag, "r")], 14.5, TXT)
    bx, by = BETA_BOT[i]
    rich(c, bx, by, [("β", "i"), ("so", "si"), (" = " + BETA_LABELS[i], "r")], 19, TXT)
    rich(c, FW / 2, -27, LAB_BBP, 16.5, INK, align="center")
    rich(c, -34, BOT_FH / 2, LAB_X, 17, INK, align="center", angle=math.pi / 2)
    bots.append(c)

layout = column(row(*[c.p for c in tops + [ccb]]), row(*[c.p for c in bots]))
open("out.html", "w").write(file_html(layout, INLINE))
